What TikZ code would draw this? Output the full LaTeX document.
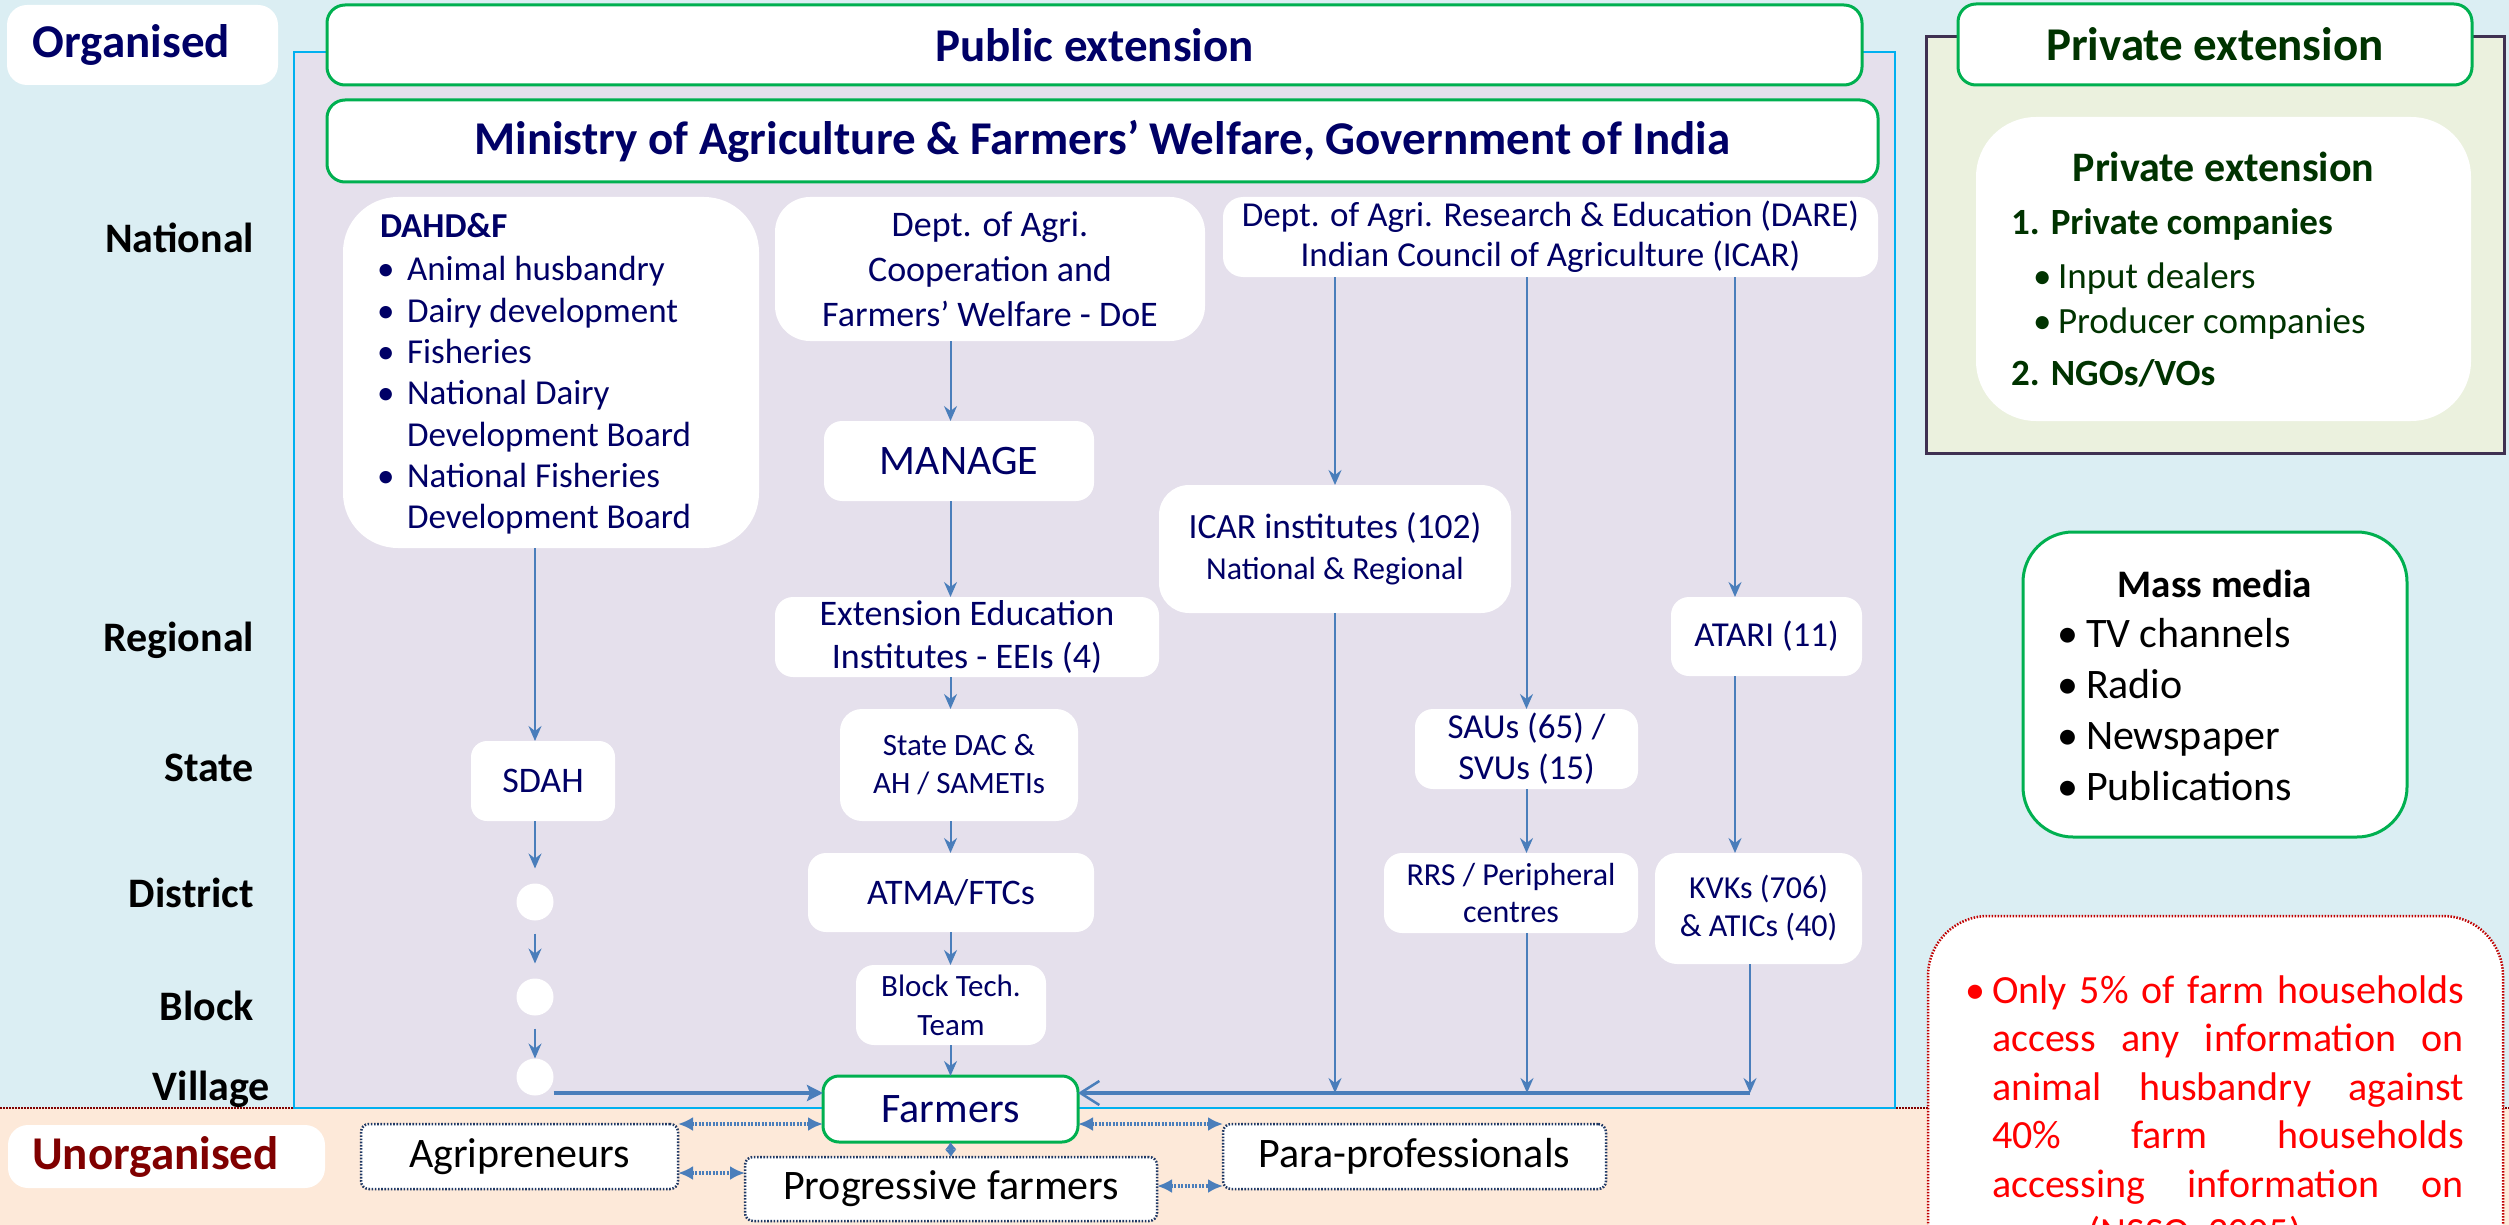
\documentclass[tikz,border=0pt]{standalone}
\usepackage{fontspec}
\setmainfont{Carlito}
\usetikzlibrary{arrows.meta}
\definecolor{bgblue}{RGB}{219,238,243}
\definecolor{peach}{RGB}{253,233,217}
\definecolor{lav}{RGB}{229,224,236}
\definecolor{cyanb}{RGB}{0,176,240}
\definecolor{gborder}{RGB}{0,176,80}
\definecolor{navy}{RGB}{0,0,102}
\definecolor{arrowblue}{RGB}{74,126,187}
\definecolor{olivebg}{RGB}{235,241,222}
\definecolor{purpleb}{RGB}{63,49,81}
\definecolor{dgreen}{RGB}{0,51,0}
\definecolor{dred}{RGB}{128,0,0}
\definecolor{redtxt}{RGB}{255,0,0}
\definecolor{redb}{RGB}{192,0,0}
\definecolor{dotnavy}{RGB}{31,56,100}
\newcommand{\fsz}[2]{\fontsize{#1}{#2}\selectfont}
\begin{document}
\begin{tikzpicture}[x=1pt,y=-1pt,
 every node/.style={inner sep=0pt,outer sep=0pt},
 wbox/.style={rectangle,rounded corners=#1,fill=white,align=center,text=navy},
 wbox/.default=16pt,
 gbox/.style={rectangle,rounded corners=18pt,fill=white,draw=gborder,line width=3pt,align=center},
 dbox/.style={rectangle,rounded corners=8pt,fill=white,draw=dotnavy,line width=2.5pt,dash pattern=on 1.6pt off 1.6pt,text=black,font=\fsz{42}{50}},
 lvl/.style={text=black,font=\fsz{42}{50}\bfseries,anchor=base east},
 conn/.style={draw=arrowblue,line width=2pt,-{Stealth[length=15pt,width=13pt,inset=5pt]}},
 hline/.style={draw=arrowblue,line width=3.5pt},
 dda/.style={draw=arrowblue,line width=4pt,dash pattern=on 2pt off 1.5pt,{Latex[length=15pt,width=14pt]}-{Latex[length=15pt,width=14pt]}},
 ddas/.style={draw=arrowblue,line width=4pt,{Latex[length=7.5pt,width=12pt]}-{Latex[length=7.5pt,width=12pt]}},
 navyt/.style={text=navy,anchor=base west,font=\fsz{35}{41}},
 greent/.style={text=dgreen,anchor=base west,font=\fsz{37}{44}},
 blackt/.style={text=black,anchor=base west,font=\fsz{42}{50}},
 redt/.style={text=redtxt,anchor=base west,font=\fsz{40}{48}}
]
\useasboundingbox (0,0) rectangle (2509,1225);
\clip (0,0) rectangle (2509,1225);
% backgrounds
\fill[bgblue] (0,0) rectangle (2509,1108);
\fill[peach] (0,1108) rectangle (2509,1225);
\draw[dred,line width=2pt,dash pattern=on 1.5pt off 1.5pt] (0,1108) -- (2509,1108);

% public extension container
\node[draw=cyanb,line width=2.5pt,fill=lav,minimum width=1601pt,minimum height=1056pt] (pubbox) at (1094.5,580) {};
\node[gbox,minimum width=1535pt,minimum height=80pt,text=navy,font=\fsz{47}{56}\bfseries] (pubhead) at (1094.5,45) {Public extension};
\node[gbox,minimum width=1551pt,minimum height=82pt,text=navy,font=\fsz{47}{56}\bfseries] (ministry) at (1102.5,141) {Ministry of Agriculture \& Farmers’ Welfare, Government of India};

% side labels
\node[wbox=20pt,minimum width=271pt,minimum height=80pt,font=\fsz{47}{56}\bfseries] (org) at (142.5,45) {Organised\hspace*{22pt}};
\node[lvl] (lnat) at (254,252) {National};
\node[lvl] (lreg) at (254,651) {Regional};
\node[lvl] (lsta) at (254,781) {State};
\node[lvl] (ldis) at (254,907) {District};
\node[lvl] (lblo) at (254,1020) {Block};
\node[lvl] (lvil) at (270,1100) {Village};
\node[wbox=20pt,minimum width=317pt,minimum height=63pt,font=\fsz{47}{56}\bfseries,text=dred] (unorg) at (166.5,1156.5) {Unorganised\hspace*{22pt}};

% DAHD column
\node[wbox=55pt,minimum width=416pt,minimum height=351pt] (dahd) at (551,372.5) {};
\node[navyt,font=\fsz{35}{41}\bfseries] (dh0) at (380,238) {DAHD\&F};
\foreach \i/\yy in {1/280,2/322,3/363,4/404,6/487}{\node[navyt] (db\i) at (377,\yy) {\textbullet};}
\node[navyt] (dh1) at (407,280) {Animal husbandry};
\node[navyt] (dh2) at (407,322) {Dairy development};
\node[navyt] (dh3) at (407,363) {Fisheries};
\node[navyt] (dh4) at (407,404) {National Dairy};
\node[navyt] (dh5) at (407,446) {Development Board};
\node[navyt] (dh6) at (407,487) {National Fisheries};
\node[navyt] (dh7) at (407,528) {Development Board};
\node[wbox=16pt,minimum width=144pt,minimum height=80pt,font=\fsz{36}{43}] (sdah) at (543,781) {SDAH};
\node[circle,fill=white,minimum size=37pt] (c1) at (535,902) {};
\node[circle,fill=white,minimum size=37pt] (c2) at (535,997) {};
\node[circle,fill=white,minimum size=37pt] (c3) at (535,1077) {};

% DoE column
\node[wbox=35pt,minimum width=430pt,minimum height=144pt,font=\fsz{36}{45}] (doe) at (990,269) {Dept. of Agri.\\Cooperation and\\Farmers’ Welfare - DoE};
\node[wbox=18pt,minimum width=270pt,minimum height=80pt,font=\fsz{42}{50}] (manage) at (959,461) {MANAGE};
\node[wbox=18pt,minimum width=384pt,minimum height=80pt,font=\fsz{36}{43}] (eei) at (967,637) {Extension Education\\Institutes - EEIs (4)};
\node[wbox=22pt,minimum width=238pt,minimum height=112pt,font=\fsz{31}{38}] (statedac) at (959,765) {State DAC \&\\AH / SAMETIs};
\node[wbox=18pt,minimum width=286pt,minimum height=79pt,font=\fsz{36}{43}] (atma) at (951,892.5) {ATMA/FTCs};
\node[wbox=18pt,minimum width=190pt,minimum height=80pt,font=\fsz{31}{39}] (btt) at (951,1005) {Block Tech.\\Team};
\node[gbox,rounded corners=16pt,minimum width=255pt,minimum height=66pt,text=navy,font=\fsz{42}{50}] (farmers) at (950.5,1109) {Farmers};

% DARE column
\node[wbox=20pt,minimum width=655pt,minimum height=80pt,font=\fsz{35}{40}] (dare) at (1550.5,237) {Dept. of Agri. Research \& Education (DARE)\\Indian Council of Agriculture (ICAR)};
\node[wbox=30pt,minimum width=352pt,minimum height=128pt,font=\fsz{35.5}{41}] (icar) at (1335,549) {ICAR institutes (102)\\{\fsz{32}{41}National \& Regional}};
\node[wbox=18pt,minimum width=191pt,minimum height=79pt,font=\fsz{35}{41}] (atari) at (1766.5,636.5) {ATARI (11)};
\node[wbox=18pt,minimum width=223pt,minimum height=80pt,font=\fsz{35}{41}] (saus) at (1526.5,749) {SAUs (65) /\\SVUs (15)};
\node[wbox=18pt,minimum width=254pt,minimum height=80pt,font=\fsz{32}{38}] (rrs) at (1511,893) {RRS / Peripheral\\centres};
\node[wbox=22pt,minimum width=207pt,minimum height=111pt,font=\fsz{32}{38}] (kvk) at (1758.5,908.5) {KVKs (706)\\\& ATICs (40)};

% unorganised boxes
\node[dbox,minimum width=317pt,minimum height=65pt] (agri) at (519.5,1156.5) {Agripreneurs};
\node[dbox,minimum width=412pt,minimum height=64pt] (prog) at (951,1189) {Progressive farmers};
\node[dbox,minimum width=383pt,minimum height=65pt] (para) at (1414.5,1156.5) {Para-professionals};

% private extension
\node[draw=purpleb,line width=3pt,fill=olivebg,minimum width=578pt,minimum height=416pt] (privouter) at (2215,245) {};
\node[gbox,minimum width=514pt,minimum height=81pt,text=dgreen,font=\fsz{47}{56}\bfseries] (privhead) at (2215,44.5) {Private extension};
\node[wbox=60pt,minimum width=495pt,minimum height=304pt] (privinner) at (2223.5,269) {};
\node[greent,anchor=base,font=\fsz{42}{50}\bfseries] (pt0) at (2223.5,182) {Private extension};
\node[greent,font=\fsz{37}{44}\bfseries] (pt1) at (2011,235) {1. Private companies};
\node[greent] (pb1) at (2033,288) {\textbullet};
\node[greent] (pt2) at (2058,288) {Input dealers};
\node[greent] (pb2) at (2033,333) {\textbullet};
\node[greent] (pt3) at (2058,333) {Producer companies};
\node[greent,font=\fsz{37}{44}\bfseries] (pt4) at (2011,385) {2. NGOs/VOs};

% mass media
\node[gbox,rounded corners=50pt,minimum width=384pt,minimum height=305pt] (mass) at (2215,684.5) {};
\node[text=black,anchor=base,font=\fsz{39}{47}\bfseries] (mt) at (2215,597) {Mass media};
\foreach \i/\yy/\tt in {1/647/TV channels,2/698/Radio,3/749/Newspaper,4/800/Publications}{
  \node[blackt] (mb\i) at (2057,\yy) {\textbullet};
  \node[blackt] (mi\i) at (2086,\yy) {\tt};
}

% note
\node[draw=redb,line width=2.5pt,dash pattern=on 1.5pt off 1.5pt,fill=white,rounded corners=60pt,minimum width=575pt,minimum height=414pt] (note) at (2215.5,1123) {};
\node[redt] (nb) at (1965,1003) {\textbullet};
\node[redt] (n1) at (1992,1003) {\hbox to 472pt{Only\hfill 5\%\hfill of\hfill farm\hfill households}};
\node[redt] (n2) at (1992,1051.5) {\hbox to 472pt{access\hfill any\hfill information\hfill on}};
\node[redt] (n3) at (1992,1100) {\hbox to 472pt{animal\hfill husbandry\hfill against}};
\node[redt] (n4) at (1992,1148.5) {\hbox to 472pt{40\%\hfill farm\hfill households}};
\node[redt] (n5) at (1992,1197) {\hbox to 472pt{accessing\hfill information\hfill on}};
\node[redt] (n6) at (1992,1245.5) {crops (NSSO, 2005)};

% connectors: DAHD column
\draw[conn] (c1 |- dahd.south) -- (c1 |- sdah.north);
\draw[conn,shorten >=15pt] (c1 |- sdah.south) -- (c1.north);
\draw[conn,shorten <=13pt,shorten >=15pt] (c1.south) -- (c2.north);
\draw[conn,shorten <=13pt] (c2.south) -- (c3.north);
\draw[hline,-{Stealth[length=16pt,width=16pt,inset=3pt]}] ([yshift=16pt]farmers.west -| c3.east) -- ([yshift=16pt]farmers.west);

% connectors: DoE column
\draw[conn] (farmers |- doe.south) -- (farmers |- manage.north);
\draw[conn] (farmers |- manage.south) -- (farmers |- eei.north);
\draw[conn] (farmers |- eei.south) -- (farmers |- statedac.north);
\draw[conn] (farmers |- statedac.south) -- (farmers |- atma.north);
\draw[conn] (farmers |- atma.south) -- (farmers |- btt.north);
\draw[conn] (farmers |- btt.south) -- (farmers.north);

% connectors: DARE column
\coordinate (hub) at (1750,1093);
\draw[conn] (icar.north |- dare.south) -- (icar.north);
\draw[conn] (saus.north |- dare.south) -- (saus.north);
\draw[conn] ([xshift=-31.5pt]atari.north |- dare.south) -- ([xshift=-31.5pt]atari.north);
\draw[conn] ([xshift=-31.5pt]atari.south) -- ([xshift=-31.5pt]atari.south |- kvk.north);
\draw[conn] (saus.south) -- (saus.south |- rrs.north);
\draw[conn] (icar.south) -- (icar.south |- hub);
\draw[conn] ([xshift=16pt]rrs.south) -- ([xshift=16pt]rrs.south |- hub);
\draw[conn] ([xshift=-8.5pt]kvk.south) -- (hub);
\draw[hline,-{Straight Barb[length=19pt,width=24pt,line width=2.5pt]}] (hub) -- (hub -| farmers.east);

% unorganised links
\draw[dda] (agri.north east) -- (agri.north east -| farmers.west);
\draw[dda] ([yshift=-16.5pt]agri.east) -- ([yshift=-16.5pt]agri.east -| prog.west);
\draw[ddas] (farmers.south) -- (prog.north);
\draw[dda] (farmers.east |- para.north) -- (para.north west);
\draw[dda] ([yshift=3pt]para.south west -| prog.east) -- ([yshift=3pt]para.south west);
\end{tikzpicture}
\end{document}
